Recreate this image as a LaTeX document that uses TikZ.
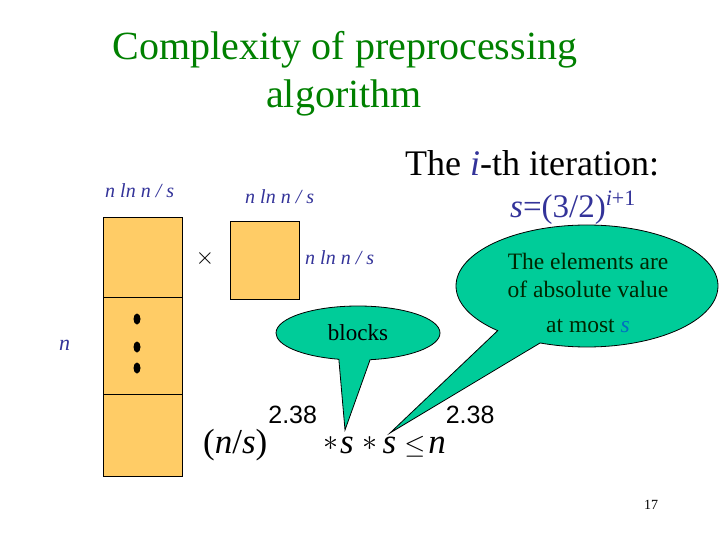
\documentclass[tikz,border=0pt]{standalone}
\usepackage{fix-cm}
\usepackage{fontspec}
\setmainfont{Liberation Serif}
\setsansfont{Liberation Sans}
\usetikzlibrary{shapes.callouts,shapes.geometric}
\definecolor{titlegreen}{RGB}{0,128,0}
\definecolor{navy}{RGB}{51,51,153}
\definecolor{blockfill}{RGB}{255,204,102}
\definecolor{callgreen}{RGB}{0,204,153}
\definecolor{sblue}{RGB}{0,112,192}
\newcommand{\fs}[1]{\fontsize{#1}{#1}\selectfont}
\newcommand{\supnum}{\raisebox{30pt}{\sffamily\fs{25}2.38}}
\newcommand{\bigast}{\raisebox{3pt}{\fs{30}$\ast$}}
\begin{document}
\begin{tikzpicture}[x=1pt,y=-1pt,
  title/.style={text=titlegreen,font=\fs{40},inner sep=0pt,anchor=base},
  dimlabel/.style={text=navy,font=\fs{20}\itshape,inner sep=0pt,anchor=base west},
  block/.style={draw=black,fill=blockfill,line width=1pt},
  bubble/.style={ellipse callout,draw=black,fill=callgreen,line width=0.8pt,inner sep=0pt,callout pointer arc=22},
  bubbletext/.style={text=black!85!green,inner sep=0pt}]
\useasboundingbox (0,0) rectangle (720,540);
% title
\node[title] (t1) at (345,60) {Complexity of preprocessing};
\node[title] (t2) at (344,108) {algorithm};
% iteration
\node[inner sep=0pt,anchor=base west,font=\fs{36}] (iter) at (405,176) {The \textcolor{navy}{\textit{i}}-th iteration:};
\node[inner sep=0pt,anchor=base west,font=\fs{33},text=navy] (sdef) at (510,218) {\textit{s}=(3/2)\raisebox{12pt}{\fs{22}\textit{i}+1}};
% labels
\node[dimlabel] (l1) at (105,197) {n ln n / s};
\node[dimlabel] (l2) at (245,204) {n ln n / s};
\node[dimlabel] (l3) at (305,264) {n ln n / s};
\node[dimlabel,font=\fs{22}\itshape] (ln) at (59,350) {n};
% tall matrix
\draw[block] (103,218) rectangle (182,476);
\draw[line width=1pt] (103,297) -- (182,297);
\draw[line width=1pt] (103,394) -- (182,394);
\foreach \yy in {319,347,368} \fill (137,\yy) ellipse (3.5 and 5.5);
% times
\node[inner sep=0pt,font=\sffamily\fs{24}] (times) at (205,258) {$\times$};
% square
\draw[block] (230,222) rectangle (299,299);
% callouts
\node[bubble,minimum width=164pt,minimum height=54pt,callout absolute pointer={(345,430)},font=\fs{23}] (blocks) at (358,333) {blocks};
\node[bubble,minimum width=262pt,minimum height=122pt,callout absolute pointer={(390,433)}] (elem) at (587,286) {};
\node[bubbletext,align=center,font=\fontsize{23.5}{28}\selectfont] (elemtext) at (588,293) {The elements are\\of absolute value\\[7pt]at most \textcolor{sblue}{\textit{s}}};
% formula
\node[inner sep=0pt,anchor=base west,font=\fs{35}] (formula) at (203,453) {\rmfamily(\textit{n}/\textit{s})\hspace{1pt}\supnum\hspace{6pt}\bigast\hspace{2pt}\textit{s}\hspace{9pt}\bigast\hspace{5pt}\textit{s}\hspace{8pt}{\fs{27}$\le$}\hspace{3pt}\textit{n}\supnum};
% page number
\node[inner sep=0pt,font=\fs{14}] (pg) at (651,505) {17};
\end{tikzpicture}
\end{document}
